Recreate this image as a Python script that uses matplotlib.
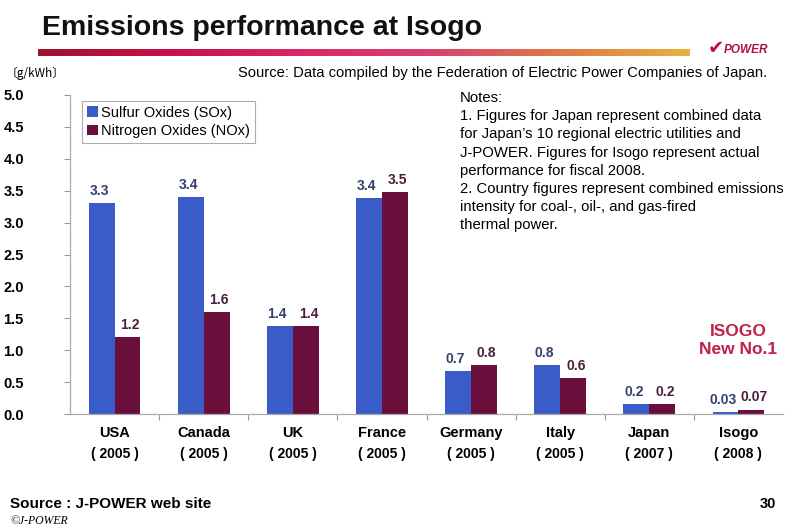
import matplotlib

matplotlib.use("Agg")
import matplotlib.pyplot as plt  # noqa: E402
import numpy as np  # noqa: E402
from matplotlib.colors import LinearSegmentedColormap  # noqa: E402

countries = ["USA", "Canada", "UK", "France", "Germany", "Italy", "Japan", "Isogo"]
years = ["2005", "2005", "2005", "2005", "2005", "2005", "2007", "2008"]
sox = [3.3, 3.4, 1.38, 3.38, 0.68, 0.77, 0.16, 0.03]
nox = [1.2, 1.6, 1.38, 3.48, 0.77, 0.57, 0.16, 0.07]
sox_labels = ["3.3", "3.4", "1.4", "3.4", "0.7", "0.8", "0.2", "0.03"]
nox_labels = ["1.2", "1.6", "1.4", "3.5", "0.8", "0.6", "0.2", "0.07"]
yticks = [0.0, 0.5, 1.0, 1.5, 2.0, 2.5, 3.0, 3.5, 4.0, 4.5, 5.0]

notes = [
    "Notes:",
    "1. Figures for Japan represent combined data",
    "for Japan\u2019s 10 regional electric utilities and",
    "J-POWER. Figures for Isogo represent actual",
    "performance for fiscal 2008.",
    "2. Country figures represent combined emissions",
    "intensity for coal-, oil-, and gas-fired",
    "thermal power.",
]

BLUE = "#3a5cc8"
MAROON = "#6a0f3c"
plt.rcParams["font.family"] = ["Liberation Sans", "DejaVu Sans"]

fig = plt.figure(figsize=(7.99, 5.29), dpi=100)
W, H = 799, 529


def fx(px):
    return px / W


def fy(py):
    return 1 - py / H


# title and gradient rule
fig.text(fx(42), fy(28), "Emissions performance at Isogo", fontsize=20.5, fontweight="bold",
         va="center", ha="left", color="#111111")
grad_ax = fig.add_axes([fx(38), fy(56), fx(690 - 38), 7 / H])
grad = LinearSegmentedColormap.from_list(
    "rule", ["#9e1030", "#c8104a", "#d8286a", "#d84070", "#e07848", "#e8b040"])
grad_ax.imshow(np.linspace(0, 1, 256)[None, :], aspect="auto", cmap=grad)
grad_ax.axis("off")
fig.text(fx(708), fy(48), "\u2714", fontsize=14, color="#c0103a", va="center", ha="left",
         family=["DejaVu Sans"])
fig.text(fx(724), fy(50), "POWER", fontsize=8.5, color="#b0103a", fontweight="bold",
         fontstyle="italic", va="center", ha="left")

fig.text(fx(6), fy(73), "\u3014g/kWh\u3015", fontsize=8.5, va="center", ha="left",
         family=["Noto Sans CJK JP", "DejaVu Sans"])
fig.text(fx(238), fy(73),
         "Source: Data compiled by the Federation of Electric Power Companies of Japan.",
         fontsize=10.6, va="center", ha="left")

# chart
ax = fig.add_axes([fx(70), fy(414), fx(783 - 70), (414 - 95) / H])
x = np.arange(len(countries)) + 0.5
bw = 0.29
b1 = ax.bar(x - bw / 2, sox, bw, color=BLUE, label="Sulfur Oxides (SOx)")
b2 = ax.bar(x + bw / 2, nox, bw, color=MAROON, label="Nitrogen Oxides (NOx)")
for rect, lab in zip(b1, sox_labels):
    ax.text(rect.get_x() + rect.get_width() / 2 - 0.03, rect.get_height() + 0.08, lab,
            ha="center", va="bottom", fontsize=10, fontweight="bold", color="#34406e")
for rect, lab in zip(b2, nox_labels):
    ax.text(rect.get_x() + rect.get_width() / 2 + 0.03, rect.get_height() + 0.08, lab,
            ha="center", va="bottom", fontsize=10, fontweight="bold", color="#4a1e3e")

ax.set_xlim(0, len(countries))
ax.set_ylim(0, 5.0)
ax.set_yticks(yticks)
ax.set_yticklabels([f"{v:.1f}" for v in yticks], fontsize=10.5, fontweight="bold")
ax.tick_params(axis="y", length=4, color="#999999", pad=44)
for lab in ax.get_yticklabels():
    lab.set_horizontalalignment("left")
ax.set_xticks(np.arange(1, len(countries)))
ax.set_xticklabels([])
ax.tick_params(axis="x", length=4, color="#999999", direction="out")
for s in ["top", "right"]:
    ax.spines[s].set_visible(False)
for s in ["left", "bottom"]:
    ax.spines[s].set_color("#aaaaaa")
    ax.spines[s].set_linewidth(0.9)

for xi, c, yr in zip(x, countries, years):
    ax.text(xi, -0.3, c, ha="center", va="center", fontsize=10.5, fontweight="bold")
    ax.text(xi, -0.62, f"( {yr} )", ha="center", va="center", fontsize=10, fontweight="bold")

leg = ax.legend(loc="upper left", bbox_to_anchor=(0.006, 1.005),
                fontsize=10.5, frameon=True, fancybox=False, edgecolor="#999999",
                handlelength=0.75, handleheight=0.75, handletextpad=0.25, borderpad=0.35,
                labelspacing=0.3)
leg.get_frame().set_linewidth(0.8)

ax.text(7.5, 1.15, "ISOGO\nNew No.1", ha="center", va="center", fontsize=12.5,
        fontweight="bold", color="#c0204a", linespacing=1.2)

for i, line in enumerate(notes):
    fig.text(fx(460), fy(98 + i * 18.2), line, fontsize=10.7, va="center", ha="left")

# footer
fig.text(fx(10), fy(504), "Source : J-POWER web site", fontsize=11, fontweight="bold",
         va="center", ha="left")
fig.text(fx(760), fy(504), "30", fontsize=10.5, fontweight="bold", va="center", ha="left")
fig.text(fx(10), fy(521), "\u00a9J-POWER", fontsize=8.5, fontstyle="italic", va="center",
         ha="left", family=["Liberation Serif", "DejaVu Serif"])

fig.savefig("out.png", dpi=100)
